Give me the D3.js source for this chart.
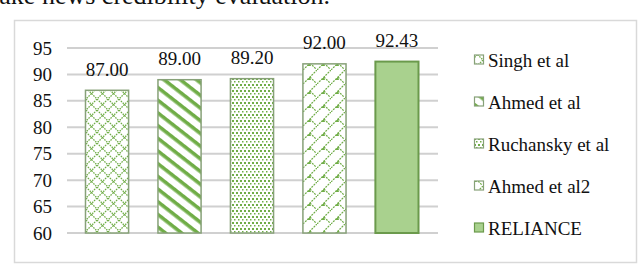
<!DOCTYPE html>
<html>
<head>
<meta charset="utf-8">
<script src="https://cdn.jsdelivr.net/npm/d3@7"></script>
<style>
  body { margin: 0; background: #fff; }
</style>
</head>
<body>
<svg id="chart" width="640" height="266"></svg>
<script>
// Chart data
const methods = ["Singh et al", "Ahmed et al", "Ruchansky et al", "Ahmed et al2", "RELIANCE"];
const scores = [87.00, 89.00, 89.20, 92.00, 92.43];
const yTicks = [60, 65, 70, 75, 80, 85, 90, 95];
const patternIds = ["pDiamond", "pStripe", "pDots", "pDivot", "solid"];

const green = "#70ad47";
const serif = "'Liberation Serif', 'Times New Roman', Tinos, serif";
const svg = d3.select("#chart");

// Caption line cut off at the top of the crop
svg.append("text")
  .attr("x", 330)
  .attr("y", 4)
  .attr("text-anchor", "end")
  .style("font-family", serif)
  .attr("font-size", "26px")
  .attr("fill", "#111")
  .text("for fake news credibility evaluation.");

// Outer frame
svg.append("rect")
  .attr("x", 14.5).attr("y", 20.5)
  .attr("width", 622).attr("height", 242)
  .attr("fill", "#fff")
  .attr("stroke", "#d9d9d9")
  .attr("stroke-width", 1.5);

// Patterns
const defs = svg.append("defs");

// diamond lattice
const p1 = defs.append("pattern").attr("id", "pDiamond")
  .attr("patternUnits", "userSpaceOnUse").attr("width", 11).attr("height", 11)
  .attr("x", 86).attr("y", 0);
p1.append("rect").attr("width", 11).attr("height", 11).attr("fill", "#fff");
p1.append("path").attr("d", "M0,0L11,11M11,0L0,11")
  .attr("stroke", green).attr("stroke-width", 1.3).attr("stroke-dasharray", "1.6,1");

// wide diagonal stripes
const p2 = defs.append("pattern").attr("id", "pStripe")
  .attr("patternUnits", "userSpaceOnUse").attr("width", 10).attr("height", 10)
  .attr("patternTransform", "rotate(38)");
p2.append("rect").attr("width", 10).attr("height", 10).attr("fill", "#fff");
p2.append("rect").attr("y", 0).attr("width", 10).attr("height", 3.6).attr("fill", green);

// small dot grid
const p3 = defs.append("pattern").attr("id", "pDots")
  .attr("patternUnits", "userSpaceOnUse").attr("width", 4).attr("height", 6);
p3.append("rect").attr("width", 4).attr("height", 6).attr("fill", "#fff");
p3.append("rect").attr("x", 0).attr("y", 0).attr("width", 2).attr("height", 2).attr("fill", green);
p3.append("rect").attr("x", 2).attr("y", 3).attr("width", 1.5).attr("height", 1.5).attr("fill", green);

// divot / shingle
const p4 = defs.append("pattern").attr("id", "pDivot")
  .attr("patternUnits", "userSpaceOnUse").attr("width", 14).attr("height", 14)
  .attr("x", 303).attr("y", 0);
p4.append("rect").attr("width", 14).attr("height", 14).attr("fill", "#fff");
p4.append("path").attr("d", "M0,14L14,0")
  .attr("stroke", green).attr("stroke-width", 1.2).attr("stroke-dasharray", "2,1");
p4.append("path").attr("d", "M7,7L13,13")
  .attr("stroke", green).attr("stroke-width", 1.2).attr("stroke-dasharray", "2,1");
p4.append("path").attr("d", "M4,10L8,10L7,7Z").attr("fill", green);

function fillFor(i) {
  return patternIds[i] === "solid" ? "#a9d18e" : `url(#${patternIds[i]})`;
}

// Scales
const x = d3.scaleBand()
  .domain(methods)
  .range([71, 433])
  .paddingInner(0.405)
  .paddingOuter(0.2);

const y = d3.scaleLinear()
  .domain([60, 95])
  .range([233, 48]);

// Gridlines
svg.append("g")
  .selectAll("line")
  .data(yTicks)
  .enter()
  .append("line")
  .attr("x1", 67).attr("x2", 438)
  .attr("y1", d => y(d)).attr("y2", d => y(d))
  .attr("stroke", "#d0d0d0")
  .attr("stroke-width", 2);

// Y axis labels
const yAxis = svg.append("g")
  .attr("transform", "translate(58,0)")
  .call(d3.axisLeft(y).tickValues(yTicks).tickSize(0).tickPadding(6));
yAxis.attr("font-family", null).attr("font-size", null);
yAxis.select(".domain").remove();
yAxis.selectAll("text")
  .style("font-family", serif)
  .attr("font-size", "19px")
  .attr("fill", "#111");

// Bars
svg.append("g")
  .selectAll("rect")
  .data(scores)
  .enter()
  .append("rect")
  .attr("x", (d, i) => x(methods[i]))
  .attr("y", d => y(d))
  .attr("width", x.bandwidth())
  .attr("height", d => y(60) - y(d))
  .attr("fill", (d, i) => fillFor(i))
  .attr("stroke", (d, i) => i === 4 ? "#6b9a4c" : "#87a178")
  .attr("stroke-width", (d, i) => i === 4 ? 2 : 1.5);

// Value labels
svg.append("g")
  .selectAll("text")
  .data(scores)
  .enter()
  .append("text")
  .attr("x", (d, i) => x(methods[i]) + x.bandwidth() / 2)
  .attr("y", d => y(d) - 14.5)
  .attr("text-anchor", "middle")
  .style("font-family", serif)
  .attr("font-size", "19px")
  .attr("fill", "#111")
  .text(d => d.toFixed(2));

// Legend
const legend = svg.append("g").attr("transform", "translate(474,60)");
methods.forEach((m, i) => {
  const item = legend.append("g").attr("transform", `translate(0, ${i * 42})`);
  item.append("rect")
    .attr("x", 0.5).attr("y", -5)
    .attr("width", 9).attr("height", 9)
    .attr("fill", fillFor(i))
    .attr("stroke", i === 4 ? "#6b9a4c" : "#87a178")
    .attr("stroke-width", 1.2);
  item.append("text")
    .attr("x", 14)
    .attr("y", 0)
    .attr("dy", "0.35em")
    .style("font-family", serif)
    .attr("font-size", "19px")
    .attr("fill", "#111")
    .text(m);
});
</script>
</body>
</html>
